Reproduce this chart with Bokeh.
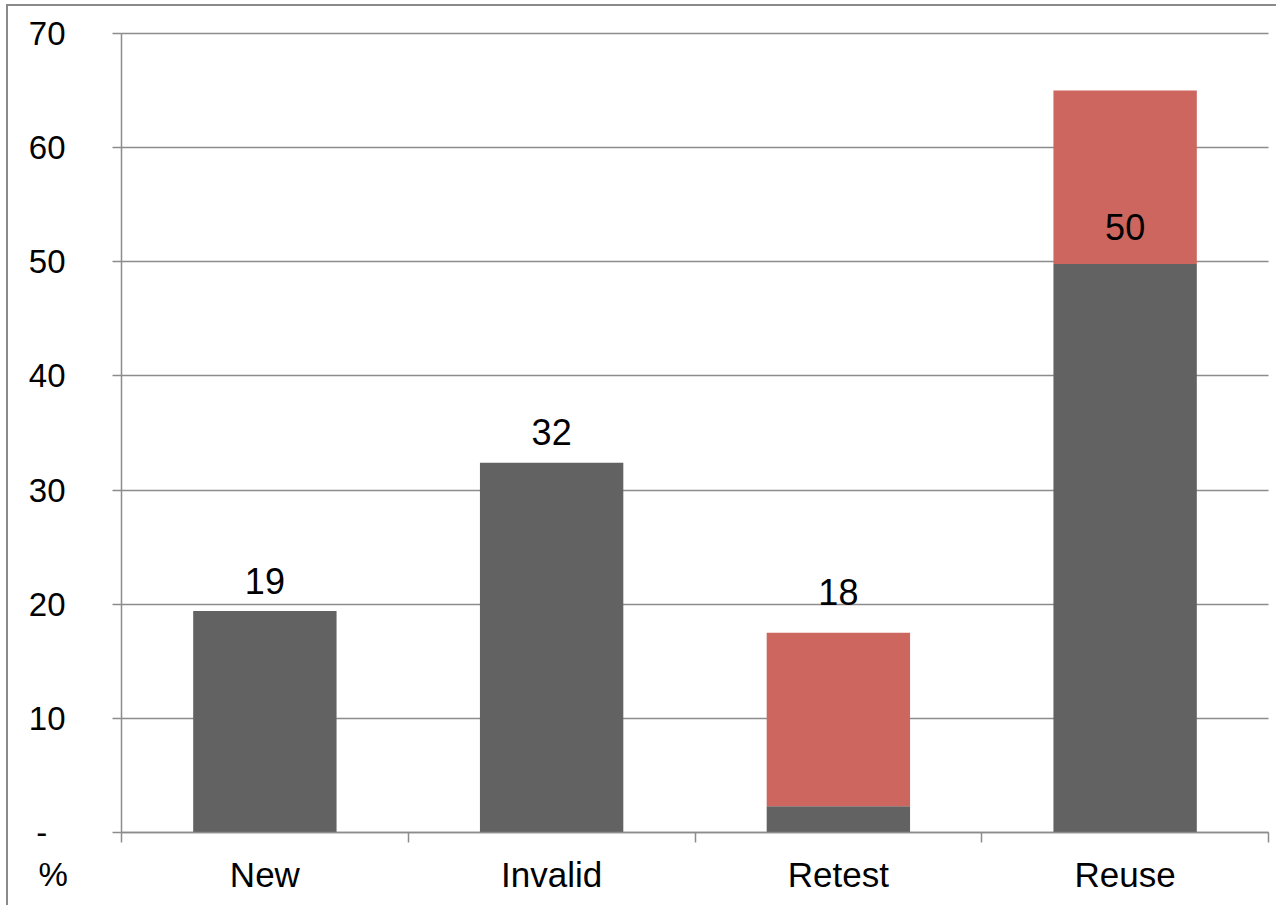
import numpy as np
from bokeh.plotting import figure
from bokeh.models import ColumnDataSource, FixedTicker
from bokeh.core.properties import value
from bokeh.embed import file_html
from bokeh.resources import INLINE

categories = ["New", "Invalid", "Retest", "Reuse"]
base_values = [19.4, 32.4, 2.3, 49.8]
extra_values = [0.0, 0.0, 15.2, 15.2]
label_values = [19, 32, 18, 50]
y_ticks = [0, 10, 20, 30, 40, 50, 60, 70]
y_unit = "%"

x = np.arange(len(categories)) + 0.5
base = np.array(base_values)
top = base + np.array(extra_values)

src = ColumnDataSource(dict(x=x, base=base, top=top,
                            lab=[str(v) for v in label_values],
                            ly=label_values))

FONT = "Liberation Sans"
GRID = "#8c8c8c"
N = len(categories)
YMAX = y_ticks[-1]

# canvas layout (pixels): canvas is 1270 x 901; plot area left 113, right 1260, top 27, bottom 826
W, H = 1270, 901
L, R, T, B = 113, 1260, 27, 826
xpx = (R - L) / N
ypx = (B - T) / YMAX
x_start, x_end = -L / xpx, N + (W - R) / xpx
y_start, y_end = -(H - B) / ypx, YMAX + T / ypx

p = figure(width=W, height=H, x_range=(x_start, x_end), y_range=(y_start, y_end),
           output_backend="svg", toolbar_location=None,
           min_border_left=0, min_border_top=0, min_border_right=0, min_border_bottom=0)
p.styles = {"border-left": "2px solid #8a8a8a", "border-top": "2px solid #8a8a8a",
            "margin-left": "6px", "margin-top": "4px"}
p.outline_line_color = None
p.background_fill_color = "white"
p.border_fill_color = "white"

p.vbar(x="x", bottom=0, top="base", width=0.5, source=src, fill_color="#626262", line_color=None)
p.vbar(x="x", bottom="base", top="top", width=0.5, source=src, fill_color="#cc665e", line_color=None)
p.text(x="x", y="ly", text="lab", source=src, text_font=value(FONT), text_font_size="36px",
       text_align="center", text_baseline="middle", y_offset=-35, text_color="black")

# unit text under the value axis labels
p.text(x=[-83 / xpx], y=[-42 / ypx], text=[y_unit], text_font=value(FONT),
       text_font_size="33px", text_align="left", text_baseline="middle", text_color="black")

# x axis
xa = p.xaxis[0]
xa.fixed_location = 0
xa.bounds = (0, N)
xa.ticker = FixedTicker(ticks=list(x), minor_ticks=list(range(N + 1)))
xa.major_label_overrides = {float(xi): c for xi, c in zip(x, categories)}
xa.major_tick_line_color = None
xa.major_tick_out = 0
xa.major_tick_in = 0
xa.minor_tick_out = 10
xa.minor_tick_in = 0
xa.minor_tick_line_color = GRID
xa.minor_tick_line_width = 1.5
xa.axis_line_color = GRID
xa.axis_line_width = 1.5
xa.major_label_text_font = FONT
xa.major_label_text_font_size = "35px"
xa.major_label_text_color = "black"
xa.major_label_standoff = 12

# y axis
ya = p.yaxis[0]
ya.fixed_location = 0
ya.bounds = (0, YMAX)
ya.ticker = FixedTicker(ticks=y_ticks)
ya.major_label_overrides = {0: "-\u00a0\u00a0"}
ya.major_tick_out = 9
ya.major_tick_in = 0
ya.major_tick_line_color = GRID
ya.major_tick_line_width = 1.5
ya.minor_tick_line_color = None
ya.axis_line_color = GRID
ya.axis_line_width = 1.5
ya.major_label_text_font = FONT
ya.major_label_text_font_size = "33px"
ya.major_label_text_color = "black"
ya.major_label_standoff = 47

p.xgrid.grid_line_color = None
p.ygrid.ticker = FixedTicker(ticks=y_ticks)
p.ygrid.cross_bounds = (0, N)
p.ygrid.grid_line_color = GRID
p.ygrid.grid_line_width = 1.5

open("out.html", "w").write(file_html(p, INLINE))
